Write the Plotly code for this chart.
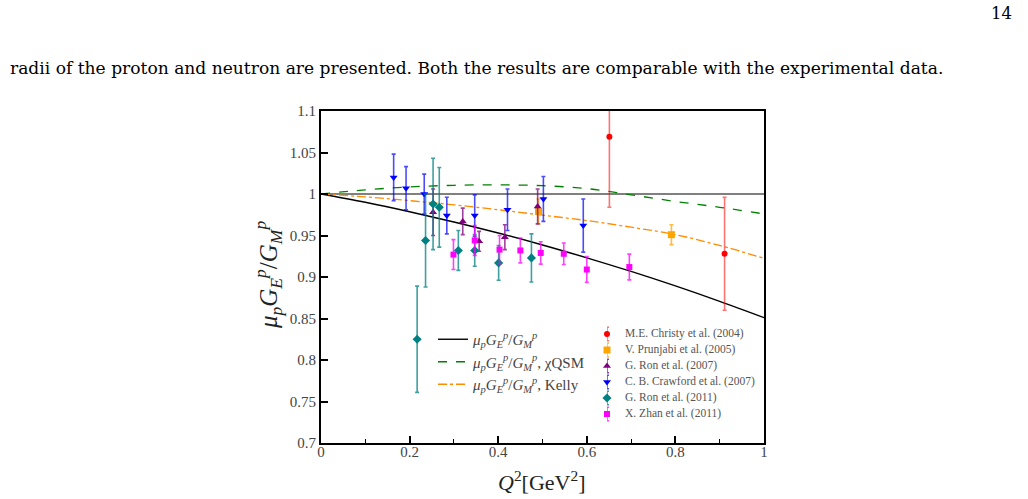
import plotly.graph_objects as go

# ---------------- data ----------------
q2_grid = [0.0, 0.1, 0.2, 0.3, 0.4, 0.5, 0.6, 0.7, 0.8, 0.9, 1.0]
ratio_model = [1.0, 0.990, 0.9786, 0.9663, 0.953, 0.9386, 0.9231, 0.9067, 0.8892, 0.8706, 0.851]
ratio_chqsm = [1.0, 1.005, 1.0085, 1.0105, 1.011, 1.010, 1.0065, 0.999, 0.991, 0.984, 0.976]
ratio_kelly = [1.0, 0.9965, 0.992, 0.987, 0.981, 0.9745, 0.968, 0.960, 0.951, 0.938, 0.9225]

christy_q = [0.651, 0.911]
christy_r = [1.069, 0.928]
christy_e = [0.085, 0.068]

prunjabi_q = [0.491, 0.791]
prunjabi_r = [0.979, 0.951]
prunjabi_e = [0.015, 0.012]

ron07_q = [0.253, 0.320, 0.357, 0.415, 0.489]
ron07_r = [0.978, 0.967, 0.943, 0.948, 0.985]
ron07_e = [0.028, 0.016, 0.012, 0.015, 0.021]

crawford_q = [0.164, 0.192, 0.233, 0.284, 0.347, 0.421, 0.502, 0.592]
crawford_r = [1.020, 1.007, 1.000, 0.974, 0.974, 0.981, 0.994, 0.962]
crawford_e = [0.028, 0.026, 0.024, 0.022, 0.025, 0.025, 0.027, 0.032]

ron11_q = [0.217, 0.236, 0.253, 0.267, 0.310, 0.347, 0.401, 0.475]
ron11_r = [0.825, 0.944, 0.988, 0.984, 0.932, 0.932, 0.917, 0.923]
ron11_e = [0.064, 0.056, 0.055, 0.048, 0.024, 0.019, 0.021, 0.029]

zhan_q = [0.299, 0.347, 0.403, 0.450, 0.496, 0.548, 0.600, 0.696]
zhan_r = [0.927, 0.944, 0.933, 0.932, 0.929, 0.928, 0.909, 0.912]
zhan_e = [0.018, 0.018, 0.017, 0.015, 0.0135, 0.013, 0.0155, 0.0155]

exp_names = ["M.E. Christy et al. (2004)", "V. Prunjabi et al. (2005)",
             "G. Ron et al. (2007)", "C. B. Crawford et al. (2007)",
             "G. Ron et al. (2011)", "X. Zhan et al. (2011)"]
ratio_label = ("<i>μ</i><sub><i>p</i></sub><i>G</i><sub><i>E</i></sub><sup><i>p</i></sup>"
               "/<i>G</i><sub><i>M</i></sub><sup><i>p</i></sup>")
curve_names = [ratio_label, ratio_label + ", χQSM", ratio_label + ", Kelly"]

x_ticks = [0, 0.2, 0.4, 0.6, 0.8, 1.0]
x_ticklabels = ["0", "0.2", "0.4", "0.6", "0.8", "1"]
y_ticks = [0.7, 0.75, 0.8, 0.85, 0.9, 0.95, 1.0, 1.05, 1.1]
y_ticklabels = ["0.7", "0.75", "0.8", "0.85", "0.9", "0.95", "1", "1.05", "1.1"]

# ---------------- styles ----------------
SERIF = "Liberation Serif"
exp_sets = [
    (christy_q, christy_r, christy_e, "#ff0000", "rgba(255,0,0,0.55)", "circle", 6),
    (prunjabi_q, prunjabi_r, prunjabi_e, "#ffa500", "rgba(255,165,0,0.75)", "square", 7),
    (ron07_q, ron07_r, ron07_e, "#800080", "rgba(128,0,128,0.75)", "triangle-up", 7),
    (crawford_q, crawford_r, crawford_e, "#0000ff", "rgba(0,0,255,0.7)", "triangle-down", 7),
    (ron11_q, ron11_r, ron11_e, "#008080", "rgba(0,128,128,0.75)", "diamond", 7),
    (zhan_q, zhan_r, zhan_e, "#ff00ff", "rgba(255,0,255,0.75)", "square", 6),
]

fig = go.Figure()

# reference line at unity
fig.add_hline(y=1.0, line=dict(color="#808080", width=1.8), layer="below")

# theory curves
curve_styles = [("#000000", "solid", 1.4), ("#008000", "dash", 1.3), ("#ff8c00", "dashdot", 1.3)]
for vals, name, (col, dash, w) in zip([ratio_model, ratio_chqsm, ratio_kelly], curve_names, curve_styles):
    fig.add_trace(go.Scatter(x=q2_grid, y=vals, mode="lines", name=name,
                             line=dict(color=col, dash=dash, width=w, shape="spline"),
                             legend="legend"))

# experimental data
for (q, r, e, col, ecol, sym, sz), name in zip(exp_sets, exp_names):
    fig.add_trace(go.Scatter(x=q, y=r, mode="markers", name=name, showlegend=False,
                             marker=dict(color=col, symbol=sym, size=sz, line=dict(width=0)),
                             error_y=dict(type="data", array=e, visible=True,
                                          color=ecol, thickness=1.6, width=2),
                             cliponaxis=True))

# legend for the data sets (drawn on an overlay axis, one row per set)
rows = list(range(len(exp_names)))
for i, ((q, r, e, col, ecol, sym, sz), name) in enumerate(zip(exp_sets, exp_names)):
    fig.add_trace(go.Scatter(x=[0], y=[rows[i]], mode="markers", xaxis="x2", yaxis="y2",
                             showlegend=False, hoverinfo="skip", cliponaxis=False,
                             marker=dict(color=col, symbol=sym, size=sz, line=dict(width=0)),
                             error_y=dict(type="constant", value=0.42, visible=True,
                                          color=ecol, thickness=1.6, width=2)))
fig.add_trace(go.Scatter(x=[0.115] * len(exp_names), y=rows, mode="text", text=exp_names,
                         textposition="middle right", xaxis="x2", yaxis="y2",
                         showlegend=False, hoverinfo="skip", cliponaxis=False,
                         textfont=dict(family=SERIF, size=11.5, color="#555555")))

L, R, T, B = 321, 764, 111, 443
W, H = R - L, B - T


def px(xp):
    return (xp - L) / W


def py(yp):
    return (B - yp) / H


fig.update_layout(
    width=1028, height=499,
    margin=dict(l=L, r=1028 - R, t=T, b=499 - B, pad=0),
    paper_bgcolor="white", plot_bgcolor="white",
    font=dict(family=SERIF, color="#000000"),
    xaxis=dict(range=[0, 1], tickvals=x_ticks, ticktext=x_ticklabels,
               ticks="inside", ticklen=7, tickwidth=1.5, tickcolor="#000",
               minor=dict(dtick=0.1, ticks="inside", ticklen=4, tickwidth=1.2, tickcolor="#000"),
               showline=True, linecolor="#000", linewidth=2, mirror=True,
               showgrid=False, zeroline=False, ticklabelstandoff=-6,
               tickfont=dict(family=SERIF, size=15, color="#444444")),
    yaxis=dict(range=[0.7, 1.1], tickvals=y_ticks, ticktext=y_ticklabels,
               ticks="inside", ticklen=7, tickwidth=1.5, tickcolor="#000",
               showline=True, linecolor="#000", linewidth=2, mirror=True,
               showgrid=False, zeroline=False,
               tickfont=dict(family=SERIF, size=15, color="#444444")),
    xaxis2=dict(domain=[px(607), 1.0], range=[0, 1], anchor="y2", visible=False, fixedrange=True),
    yaxis2=dict(domain=[py(422), py(326)], range=[5.5, -0.5], anchor="x2", visible=False, fixedrange=True),
    legend=dict(x=px(433), y=py(323), xanchor="left", yanchor="top",
                bgcolor="rgba(0,0,0,0)", borderwidth=0,
                font=dict(family=SERIF, size=15, color="#444444")),
    showlegend=True,
)

annotations = [
    dict(text=ratio_label,
         x=px(268), y=py(275), xref="paper", yref="paper", textangle=-90,
         xanchor="center", yanchor="middle",
         showarrow=False, font=dict(family=SERIF, size=25, color="#222")),
    dict(text="<i>Q</i><sup>2</sup>[GeV<sup>2</sup>]", x=px(542), y=py(481),
         xref="paper", yref="paper", xanchor="center", yanchor="middle", showarrow=False,
         font=dict(family=SERIF, size=22, color="#222")),
    dict(text="radii of the proton and neutron are presented. Both the results are comparable with the experimental data.",
         x=px(8), y=py(68), xref="paper", yref="paper", xanchor="left", yanchor="middle",
         showarrow=False, font=dict(family="DejaVu Serif", size=17.1, color="#000")),
    dict(text="14", x=px(1014), y=py(14), xref="paper", yref="paper", xanchor="right",
         yanchor="middle", showarrow=False, font=dict(family="DejaVu Serif", size=16.5, color="#000")),
]
fig.update_layout(annotations=annotations)

fig.write_html("out.html")
